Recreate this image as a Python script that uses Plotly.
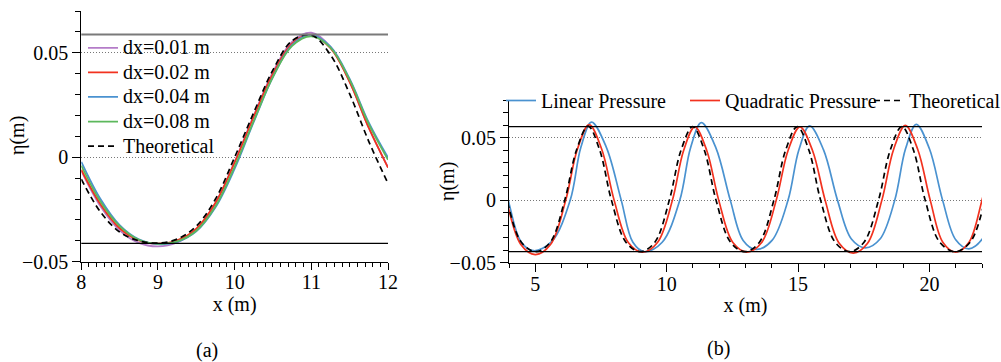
import plotly.graph_objects as go

# ---------------- panel (a): resolution study, x in metres ----------------
xa = [8.0, 8.25, 8.5, 8.75, 9.0, 9.25, 9.5, 9.75, 10.0, 10.25, 10.5, 10.75,
      11.0, 11.25, 11.5, 11.75, 12.0]
eta_dx001 = [-0.0065, -0.0235, -0.0350, -0.0410, -0.0427, -0.0408, -0.0348, -0.0220,
             -0.0022, 0.0200, 0.0408, 0.0553, 0.0596, 0.0528, 0.0362, 0.0140, -0.0048]
eta_dx002 = [-0.0060, -0.0225, -0.0340, -0.0398, -0.0414, -0.0398, -0.0342, -0.0218,
             -0.0025, 0.0195, 0.0400, 0.0545, 0.0586, 0.0522, 0.0360, 0.0140, -0.0050]
eta_dx004 = [-0.0022, -0.0200, -0.0325, -0.0393, -0.0416, -0.0405, -0.0355, -0.0240,
             -0.0055, 0.0170, 0.0385, 0.0538, 0.0585, 0.0530, 0.0375, 0.0165, -0.0002]
eta_dx008 = [-0.0040, -0.0212, -0.0330, -0.0395, -0.0414, -0.0403, -0.0352, -0.0235,
             -0.0045, 0.0175, 0.0385, 0.0533, 0.0579, 0.0525, 0.0370, 0.0158, -0.0012]
eta_theory_a = [-0.0105, -0.0262, -0.0358, -0.0400, -0.0411, -0.0392, -0.0330, -0.0200,
                0.0000, 0.0215, 0.0418, 0.0558, 0.0585, 0.0490, 0.0303, 0.0075, -0.0125]

# ---------------- panel (b): pressure formulation, x in metres ----------------
x_linear = [3.0, 3.49, 3.97, 4.45, 4.93, 5.63, 6.33, 6.735, 7.14, 7.705, 8.27, 8.715,
            9.16, 9.83, 10.5, 10.91, 11.32, 11.87, 12.42, 12.91, 13.4, 14.01, 14.62,
            15.03, 15.44, 15.97, 16.5, 17.03, 17.56, 18.12, 18.68, 19.09, 19.5, 20.0,
            20.5, 21.0, 21.5, 22.05, 22.6]
eta_linear = [0.0600, 0.0406, 0.0, -0.0330, -0.0404, -0.0330, 0.0, 0.0422, 0.0624,
              0.0422, 0.0, -0.0337, -0.0413, -0.0337, 0.0, 0.0419, 0.0619, 0.0419, 0.0,
              -0.0322, -0.0394, -0.0322, 0.0, 0.0401, 0.0593, 0.0401, 0.0, -0.0311,
              -0.0381, -0.0311, 0.0, 0.0410, 0.0606, 0.0410, 0.0, -0.0317, -0.0389,
              -0.0300, 0.0]

x_quadratic = [3.02, 3.46, 3.9, 4.45, 5.0, 5.58, 6.16, 6.605, 7.05, 7.525, 8.0, 8.54,
               9.08, 9.65, 10.22, 10.645, 11.07, 11.525, 11.98, 12.52, 13.06, 13.615,
               14.17, 14.62, 15.07, 15.55, 16.03, 16.565, 17.1, 17.645, 18.19, 18.635,
               19.08, 19.555, 20.03, 20.515, 21.0, 21.5, 22.0, 22.45, 22.9]
eta_quadratic = [0.0590, 0.0399, 0.0, -0.0355, -0.0435, -0.0355, 0.0, 0.0408, 0.0603,
                 0.0408, 0.0, -0.0339, -0.0416, -0.0339, 0.0, 0.0397, 0.0586, 0.0397,
                 0.0, -0.0339, -0.0415, -0.0339, 0.0, 0.0397, 0.0586, 0.0397, 0.0,
                 -0.0345, -0.0423, -0.0345, 0.0, 0.0405, 0.0598, 0.0405, 0.0, -0.0339,
                 -0.0416, -0.0339, 0.0, 0.0399, 0.0590]

x_theory_b = [3.03, 3.474, 3.918, 4.469, 5.02, 5.571, 6.122, 6.566, 7.01, 7.454, 7.898,
              8.449, 9.0, 9.551, 10.102, 10.546, 10.99, 11.434, 11.878, 12.429, 12.98,
              13.531, 14.082, 14.526, 14.97, 15.414, 15.858, 16.409, 16.96, 17.511,
              18.062, 18.506, 18.95, 19.394, 19.838, 20.389, 20.98, 21.55, 22.12, 22.56,
              23.0]
eta_theory_b = [0.0588, 0.0398, 0.0, -0.0336, -0.0412, -0.0336, 0.0, 0.0398, 0.0592,
                0.0398, 0.0, -0.0336, -0.0412, -0.0336, 0.0, 0.0398, 0.0588, 0.0398,
                0.0, -0.0336, -0.0412, -0.0336, 0.0, 0.0398, 0.0588, 0.0398, 0.0,
                -0.0336, -0.0412, -0.0336, 0.0, 0.0398, 0.0588, 0.0398, 0.0, -0.0336,
                -0.0412, -0.0336, 0.0, 0.0398, 0.0588]

# analytical crest and trough elevations
crest_level = 0.0588
trough_level = -0.0412

# tick positions
xticks_a = [8, 9, 10, 11, 12]
xticks_b = [5, 10, 15, 20]
yticks = [-0.05, 0, 0.05]

FONT = "Liberation Serif"
PURPLE, RED, BLUE, GREEN = "#b47cc8", "#f2321f", "#4a92d0", "#5cb85c"
W, H = 1001, 362


def leg(name):
    return f'<span style="font-size:20px">{name}</span>'


fig = go.Figure()

series_a = [("dx=0.01 m", eta_dx001, PURPLE), ("dx=0.02 m", eta_dx002, RED),
            ("dx=0.04 m", eta_dx004, BLUE), ("dx=0.08 m", eta_dx008, GREEN)]
for name, eta, col in series_a:
    fig.add_trace(go.Scatter(x=xa, y=eta, name=leg(name), mode="lines",
                             line=dict(color=col, width=1.8, shape="spline"),
                             xaxis="x", yaxis="y", legend="legend"))
fig.add_trace(go.Scatter(x=xa, y=eta_theory_a, name=leg("Theoretical"), mode="lines",
                         line=dict(color="black", width=1.7, dash="6px,4px", shape="spline"),
                         xaxis="x", yaxis="y", legend="legend"))

series_b = [("Linear Pressure", x_linear, eta_linear, BLUE, None),
            ("Quadratic Pressure", x_quadratic, eta_quadratic, RED, None),
            ("Theoretical", x_theory_b, eta_theory_b, "black", "6px,4px")]
for name, xs, eta, col, dash in series_b:
    fig.add_trace(go.Scatter(x=xs, y=eta, name=name, mode="lines",
                             line=dict(color=col, width=1.7, dash=dash, shape="spline"),
                             xaxis="x2", yaxis="y2", legend="legend2"))

# crest / trough reference lines
fig.add_shape(type="line", xref="x domain", yref="y", x0=0, x1=1, y0=crest_level,
              y1=crest_level, line=dict(color="#7a7a7a", width=2))
fig.add_shape(type="line", xref="x domain", yref="y", x0=0, x1=1, y0=trough_level,
              y1=trough_level, line=dict(color="black", width=1.2))
for lvl in (crest_level, trough_level):
    fig.add_shape(type="line", xref="x2 domain", yref="y2", x0=0, x1=1, y0=lvl, y1=lvl,
                  line=dict(color="black", width=1.2))

axis_common = dict(showline=True, linecolor="black", linewidth=1.2, ticks="outside",
                   tickcolor="black", tickwidth=1.2, zeroline=False, mirror=False,
                   automargin=False,
                   tickfont=dict(family=FONT, size=20, color="black"),
                   title_font=dict(family=FONT, size=20, color="black"))
ygrid = dict(showgrid=True, gridcolor="#777777", gridwidth=1, griddash="1px,2px")
minor_x = dict(ticklen=4, ticks="outside", tickcolor="black", tickwidth=1.2, showgrid=False)
minor_y = dict(dtick=0.01, tick0=0, ticklen=5, ticks="outside", tickcolor="black",
               tickwidth=1.2, showgrid=False)


def text_note(txt, xp, yp, angle=0):
    return dict(text=txt, x=xp / W, y=1 - yp / H, xref="paper", yref="paper",
                xanchor="center", yanchor="middle", showarrow=False, textangle=angle,
                font=dict(family=FONT, size=20, color="black"))


fig.update_layout(
    width=W, height=H, margin=dict(l=0, r=0, t=0, b=0, autoexpand=False),
    paper_bgcolor="white", plot_bgcolor="white",
    font=dict(family=FONT, size=20, color="black"),
    xaxis=dict(domain=[81.3 / W, 388 / W], range=[8, 12], tickmode="array",
               tickvals=xticks_a, ticklen=7, showgrid=False, ticklabelstandoff=-5,
               minor=dict(dtick=0.1, tick0=0, **minor_x),
               title=dict(text="x (m)", standoff=1), anchor="y", **axis_common),
    yaxis=dict(domain=[1 - 261.7 / H, 1 - 11 / H], range=[-0.05, 0.07], tickmode="array",
               tickvals=yticks, ticklen=8, minor=minor_y,
               anchor="x", **ygrid, **axis_common),
    xaxis2=dict(domain=[509 / W, 982 / W], range=[4, 22], tickmode="array",
                tickvals=xticks_b, ticklen=8, showgrid=False, ticklabelstandoff=-5,
                minor=dict(dtick=1, tick0=0, **minor_x),
                title=dict(text="x (m)", standoff=4), anchor="y2", **axis_common),
    yaxis2=dict(domain=[1 - 262.7 / H, 1 - 100 / H], range=[-0.05, 0.08], tickmode="array",
                tickvals=yticks, ticklen=8, minor=minor_y,
                anchor="x2", **ygrid, **axis_common),
    legend=dict(x=83 / W, y=1 - 30.5 / H, xanchor="left", yanchor="top",
                bgcolor="rgba(0,0,0,0)", borderwidth=0,
                font=dict(family=FONT, size=16.6, color="black")),
    legend2=dict(orientation="h", x=501 / W, y=1 - 81 / H, xanchor="left", yanchor="top",
                 bgcolor="rgba(0,0,0,0)", borderwidth=0, entrywidth=139,
                 font=dict(family=FONT, size=20, color="black")),
    annotations=[
        text_note("η(m)", 18, 136, -90),
        text_note("η(m)", 447, 182, -90),
        text_note("(a)", 207, 350),
        text_note("(b)", 718, 348),
    ],
)

fig.write_html("out.html")
